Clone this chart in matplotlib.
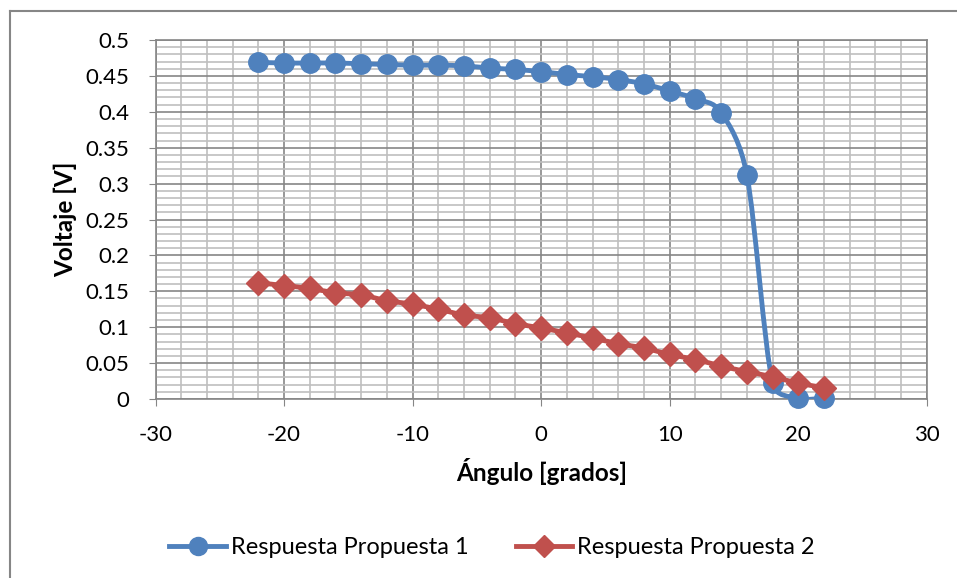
import numpy as np
import matplotlib.pyplot as plt
from matplotlib.path import Path
from matplotlib.patches import PathPatch
from matplotlib.lines import Line2D
from matplotlib.ticker import MultipleLocator

plt.rcParams['font.family'] = ['Lato', 'DejaVu Sans']
plt.rcParams['axes.unicode_minus'] = False

# data
angulo = [-22, -20, -18, -16, -14, -12, -10, -8, -6, -4, -2, 0,
          2, 4, 6, 8, 10, 12, 14, 16, 18, 20, 22]
resp1 = [0.469, 0.468, 0.468, 0.468, 0.467, 0.466, 0.465, 0.465, 0.464, 0.461, 0.459, 0.456,
         0.452, 0.449, 0.445, 0.439, 0.429, 0.418, 0.399, 0.312, 0.022, 0.001, 0.001]
resp2 = [0.162, 0.158, 0.154, 0.148, 0.145, 0.137, 0.132, 0.125, 0.117, 0.113, 0.105, 0.099,
         0.092, 0.085, 0.077, 0.071, 0.062, 0.055, 0.046, 0.038, 0.031, 0.022, 0.016]
ytick_labels = ['0', '0.05', '0.1', '0.15', '0.2', '0.25', '0.3', '0.35', '0.4', '0.45', '0.5']

azul = '#4F81BD'
rojo = '#C0504D'
gris = '#868686'


def smooth_path(ax, x, y, k=0.5):
    # Excel-like smoothed line: Catmull-Rom bezier in screen space,
    # control arms limited to a fraction of the segment length
    pts = ax.transData.transform(np.column_stack([x, y]))
    n = len(pts)
    tang = []
    for i in range(n):
        a = pts[max(i - 1, 0)]
        b = pts[min(i + 1, n - 1)]
        tang.append((b - a) / 6)
    verts = [pts[0]]
    codes = [Path.MOVETO]
    for i in range(n - 1):
        seg = np.hypot(*(pts[i + 1] - pts[i]))
        t0, t1 = tang[i], tang[i + 1]
        l0, l1 = np.hypot(*t0), np.hypot(*t1)
        if l0 > k * seg:
            t0 = t0 * k * seg / l0
        if l1 > k * seg:
            t1 = t1 * k * seg / l1
        verts += [pts[i] + t0, pts[i + 1] - t1, pts[i + 1]]
        codes += [Path.CURVE4] * 3
    verts = ax.transData.inverted().transform(np.array(verts))
    return Path(verts, codes)


fig = plt.figure(figsize=(9.57, 5.78), dpi=100)
ax = fig.add_axes([0.1625, 0.3097, 0.806, 0.621])

ax.set_xlim(-30, 30)
ax.set_ylim(0, 0.5)
ax.xaxis.set_major_locator(MultipleLocator(10))
ax.xaxis.set_minor_locator(MultipleLocator(2))
ax.yaxis.set_minor_locator(MultipleLocator(0.01))
ax.set_yticks(np.arange(0, 0.51, 0.05))
ax.set_yticklabels(ytick_labels)
ax.grid(which='minor', color='#BFBFBF', linewidth=1.2)
ax.grid(which='major', color=gris, linewidth=1.2)
ax.set_axisbelow(True)
for s in ax.spines.values():
    s.set_color(gris)
    s.set_linewidth(1.2)

ax.tick_params(which='major', direction='out', length=5, color=gris, labelsize=16)
ax.tick_params(axis='y', pad=14)
ax.tick_params(axis='x', pad=14)
ax.tick_params(which='minor', length=0)

ax.add_patch(PathPatch(smooth_path(ax, angulo, resp1), fill=False, edgecolor=azul, lw=3.5, zorder=3))
ax.plot(angulo, resp1, 'o', color=azul, ms=14, zorder=4, clip_on=False)
ax.add_patch(PathPatch(smooth_path(ax, angulo, resp2), fill=False, edgecolor=rojo, lw=3.5, zorder=5))
ax.plot(angulo, resp2, 'D', color=rojo, ms=12, zorder=6, clip_on=False)

ax.set_xlabel('Ángulo [grados]', fontsize=17.5, fontweight='bold', labelpad=9)
ax.set_ylabel('Voltaje [V]', fontsize=17.5, fontweight='bold', labelpad=6)

handles = [Line2D([], [], color=azul, lw=3.5, marker='o', ms=13),
           Line2D([], [], color=rojo, lw=3.5, marker='D', ms=11)]
fig.legend(handles, ['Respuesta Propuesta 1', 'Respuesta Propuesta 2'],
           loc='center', bbox_to_anchor=(492 / 957, 1 - 548 / 578), ncol=2, frameon=False,
           fontsize=17, handlelength=2.4, handletextpad=0.2, columnspacing=2.0)

# chart area border (left and top edges visible)
fig.add_artist(Line2D([10 / 957, 10 / 957], [0, 1 - 11 / 578], transform=fig.transFigure,
                      color=gris, lw=1.5))
fig.add_artist(Line2D([10 / 957, 1], [1 - 11 / 578, 1 - 11 / 578], transform=fig.transFigure,
                      color=gris, lw=1.5))

fig.savefig('out.png', dpi=100)
